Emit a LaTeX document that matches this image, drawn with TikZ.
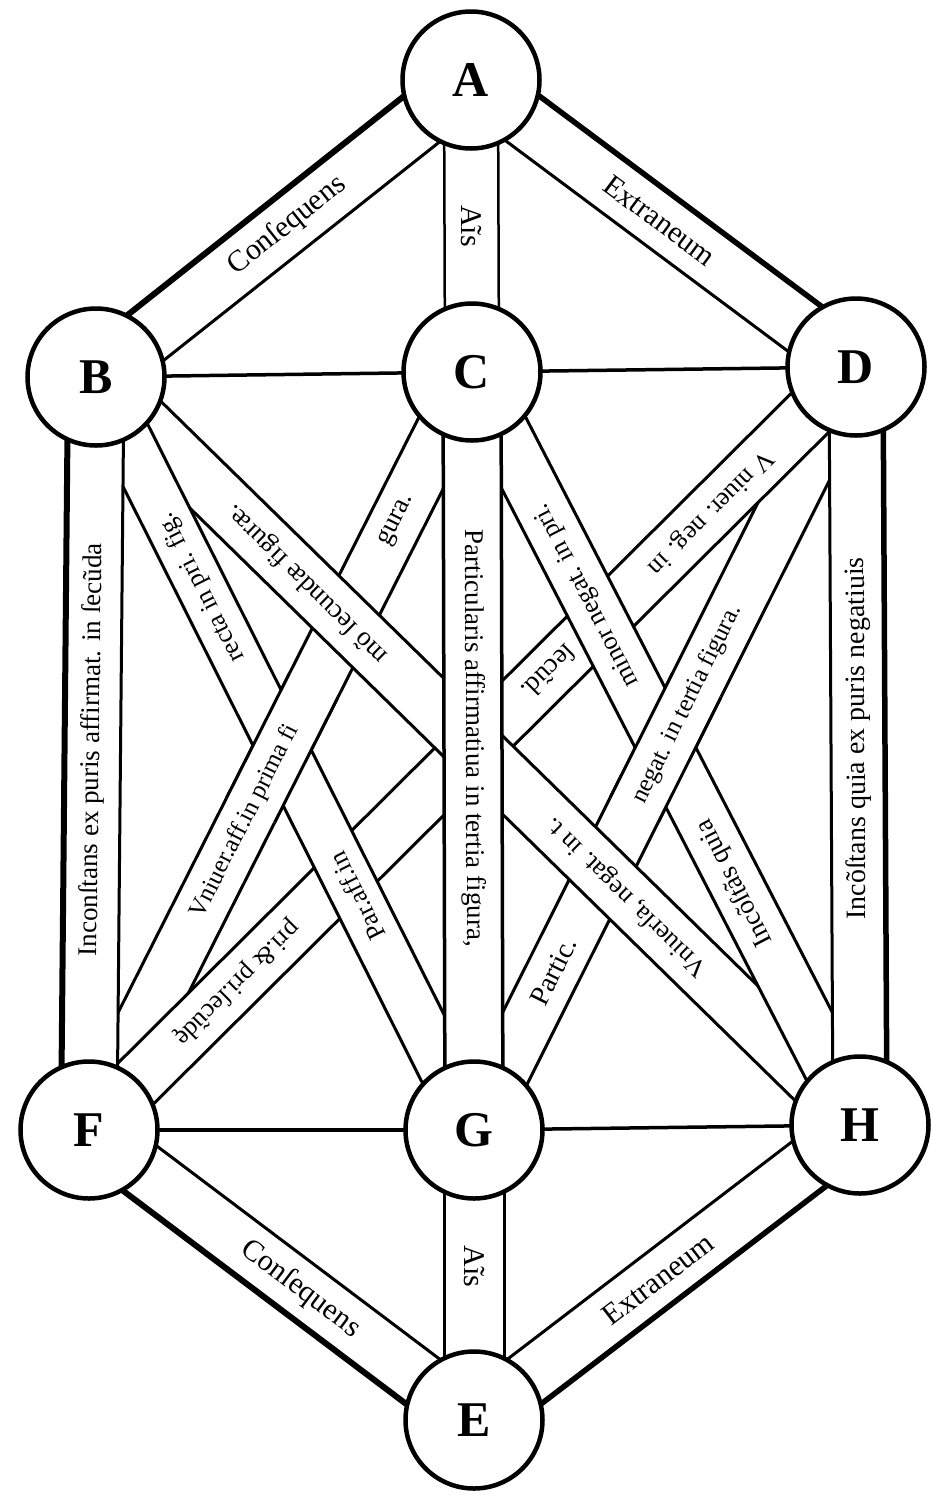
\documentclass[tikz,border=0pt]{standalone}
\usepackage{fontspec}
\setmainfont{Liberation Serif}
\usetikzlibrary{calc}
\newcommand{\mkband}[5]{%
  \fill[white] ($(#1)!#3!90:(#2)$) -- ($(#2)!#3!-90:(#1)$) -- ($(#2)!#3!90:(#1)$) -- ($(#1)!#3!-90:(#2)$) -- cycle;
  \draw[line width=#4, line cap=round] ($(#1)!#3!90:(#2)$) -- ($(#2)!#3!-90:(#1)$);
  \draw[line width=#5, line cap=round] ($(#1)!#3!-90:(#2)$) -- ($(#2)!#3!90:(#1)$);
}
\newcommand{\fsz}[1]{\fontsize{#1}{#1}\selectfont}
\begin{document}
\begin{tikzpicture}[x=1pt,y=-1pt,
  lbl/.style={inner sep=0pt, anchor=center},
  vert/.style={circle, draw, line width=4.5pt, fill=white, minimum size=137pt, inner sep=0pt, font=\fsz{50}\bfseries},
  link/.style={line width=3.5pt}]
\useasboundingbox (0,0) rectangle (930,1497);
\fill[white] (0,0) rectangle (930,1497);
\coordinate (A) at (471,80);
\coordinate (B) at (96,377);
\coordinate (C) at (472,372);
\coordinate (D) at (856,367);
\coordinate (F) at (89,1130);
\coordinate (G) at (474,1130);
\coordinate (H) at (860,1125);
\coordinate (E) at (474,1420);

% single links
\draw[link] (B) -- (C);
\draw[link] (C) -- (D);
\draw[link] (F) -- (G);
\draw[link] (G) -- (H);

% inner bands (woven)
\mkband{C}{F}{27pt}{3pt}{3pt}
\mkband{D}{G}{27pt}{3pt}{3pt}
\mkband{D}{F}{27pt}{3pt}{3pt}
\mkband{B}{H}{28pt}{3pt}{3pt}
\mkband{C}{H}{27pt}{3pt}{3pt}
\mkband{B}{G}{25pt}{3pt}{3pt}
\begin{scope}
  \clip (intersection of C--F and B--G) circle (75pt);
  \mkband{C}{F}{27pt}{3pt}{3pt}
\end{scope}
\begin{scope}
  \clip (intersection of D--G and C--H) circle (75pt);
  \mkband{D}{G}{27pt}{3pt}{3pt}
\end{scope}

% vertical and outer bands
\mkband{C}{G}{29pt}{3.5pt}{3.5pt}
\mkband{B}{F}{28pt}{3pt}{6pt}
\mkband{D}{H}{27pt}{5.5pt}{3pt}
\mkband{A}{B}{29pt}{3pt}{6pt}
\mkband{A}{D}{28pt}{5.5pt}{3pt}
\mkband{A}{C}{27pt}{2.5pt}{2.5pt}
\mkband{F}{E}{28pt}{3pt}{6pt}
\mkband{H}{E}{28pt}{5.5pt}{3pt}
\mkband{G}{E}{30pt}{3pt}{3pt}

% labels of outer and vertical bands
\node[lbl, font=\fsz{30}, rotate=38.6] at ($(A)!0.49!(B)$) {Conſequens};
\node[lbl, font=\fsz{30}, rotate=-90] at ($(A)!0.5!(C)$) {Aĩs};
\node[lbl, font=\fsz{30}, rotate=-36.7] at ($(A)!0.49!(D)$) {Extraneum};
\node[lbl, font=\fsz{27}, rotate=89.3] at ($(B)!0.495!(F)$) {Inconſtans ex puris affirmat. in ſecũda};
\node[lbl, font=\fsz{27}, rotate=-89.7] at ($(C)!0.483!(G)$) {Particularis affirmatiua in tertia figura,};
\node[lbl, font=\fsz{28}, rotate=90.3] at ($(D)!0.49!(H)$) {Incõſtans quia ex puris negatiuis};
\node[lbl, font=\fsz{30}, rotate=-37] at ($(F)!0.55!(E)$) {Conſequens};
\node[lbl, font=\fsz{30}, rotate=-90] at ($(G)!0.47!(E)$) {Aĩs};
\node[lbl, font=\fsz{30}, rotate=37.4] at ($(H)!0.523!(E)$) {Extraneum};

% labels of inner bands
\node[lbl, font=\fsz{26}, rotate=116.6] at ($(B)!0.28!(G)$) {recta in pri. fig.};
\node[lbl, font=\fsz{26}, rotate=116.6] at ($(B)!0.69!(G)$) {Par.aff.in};
\node[lbl, font=\fsz{27}, rotate=135.6] at ($(B)!0.276!(H)$) {mõ ſecundæ figuræ.};
\node[lbl, font=\fsz{26}, rotate=135.6] at ($(B)!0.695!(H)$) {Vniuerſa, negat. in t.};
\node[lbl, font=\fsz{25}, rotate=63.2] at ($(C)!0.593!(F)$) {Vniuer.aff.in prima fi};
\node[lbl, font=\fsz{27}, rotate=63.2] at ($(C)!0.196!(F)$) {gura.};
\node[lbl, font=\fsz{26}, rotate=117.3] at ($(C)!0.296!(H)$) {minor negat. in pri.};
\node[lbl, font=\fsz{27}, rotate=117.3] at ($(C)!0.678!(H)$) {Incõſtãs quia};
\node[lbl, font=\fsz{26}, rotate=-135.1] at ($(D)!0.19!(F)$) {V niuer. neg. in};
\node[lbl, font=\fsz{27}, rotate=-135.1] at ($(D)!0.40!(F)$) {ſecũd.};
\node[lbl, font=\fsz{26}, rotate=-135.1] at ($(D)!0.807!(F)$) {pri.\& pri.ſecũdę};
\node[lbl, font=\fsz{25}, rotate=63.6] at ($(D)!0.442!(G)$) {negat. in tertia figura.};
\node[lbl, font=\fsz{28}, rotate=63.6] at ($(D)!0.792!(G)$) {Partic.};

% vertices
\node[vert] (a) at (A) {A};
\node[vert] (b) at (B) {B};
\node[vert] (c) at (C) {C};
\node[vert] (d) at (D) {D};
\node[vert] (f) at (F) {F};
\node[vert] (g) at (G) {G};
\node[vert] (h) at (H) {H};
\node[vert] (e) at (E) {E};
\end{tikzpicture}
\end{document}
